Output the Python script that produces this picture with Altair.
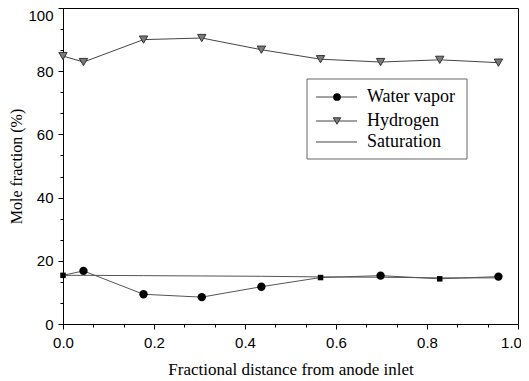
import altair as alt
import pandas as pd

# ---- data ----
x_pos = [0.0, 0.045, 0.177, 0.305, 0.436, 0.566, 0.698, 0.828, 0.957]
hydrogen = [84.8, 82.9, 90.0, 90.5, 86.8, 83.8, 82.9, 83.6, 82.7]
water_vapor = [15.4, 16.8, 9.4, 8.5, 11.8, 14.7, 15.3, 14.3, 15.0]
saturation = [15.4, 15.4, 15.3, 15.2, 15.1, 14.9, 14.8, 14.6, 14.6]
water_marker = ["square", "circle", "circle", "circle", "circle", "square", "circle", "square", "circle"]

series_names = ["Water vapor", "Hydrogen", "Saturation"]
x_major_labels = [0.0, 0.2, 0.4, 0.6, 0.8, 1.0]
y_major_labels = [0, 20, 40, 60, 80, 100]

x_ticks = [round(i * 0.2 / 3, 6) for i in range(16)]
y_ticks = [round(i * 20 / 3, 6) for i in range(16)]

df = pd.DataFrame({
    "x": x_pos,
    "hydrogen": hydrogen,
    "water": water_vapor,
    "sat": saturation,
    "marker": water_marker,
})

W, H = 455, 316

x_enc = alt.X("x:Q", scale=alt.Scale(domain=[0, 1], nice=False, zero=False),
              axis=alt.Axis(values=x_ticks, labelFlush=False,
                            labelExpr="abs(datum.value*5 - round(datum.value*5)) < 0.001 ? format(datum.value, '.1f') : ''",
                            tickSize={"condition": {"test": "abs(datum.value*5 - round(datum.value*5)) < 0.001", "value": 5}, "value": 3},
                            labelOffset={"condition": {"test": "datum.value > 0.99", "value": -7}, "value": 0},
                            title="Fractional distance from anode inlet",
                            labelPadding=6, titlePadding=11, grid=False))

def y_enc(field):
    return alt.Y(f"{field}:Q", scale=alt.Scale(domain=[0, 100], nice=False),
                 axis=alt.Axis(values=y_ticks, labelFlush=False,
                               labelExpr="abs(datum.value/20 - round(datum.value/20)) < 0.001 ? format(datum.value, 'd') : ''",
                               tickSize={"condition": {"test": "abs(datum.value/20 - round(datum.value/20)) < 0.001", "value": 5}, "value": 3},
                               labelOffset={"condition": {"test": "datum.value > 99", "value": 7}, "value": 0},
                               title="Mole fraction (%)", titleFontSize=16,
                               labelPadding=5, titlePadding=3, grid=False))

base = alt.Chart(df)

sat_line = base.mark_line(color="#555555", strokeWidth=1).encode(x=x_enc, y=y_enc("sat"))
water_line = base.mark_line(color="#555555", strokeWidth=1).encode(x=x_enc, y=y_enc("water"))
h_line = base.mark_line(color="#444444", strokeWidth=1).encode(x=x_enc, y=y_enc("hydrogen"))

circles = base.transform_filter("datum.marker == 'circle'").mark_point(
    shape="circle", filled=True, color="black", size=70, opacity=1
).encode(x=x_enc, y=y_enc("water"))
squares = base.transform_filter("datum.marker == 'square'").mark_point(
    shape="square", filled=True, color="black", size=30, opacity=1
).encode(x=x_enc, y=y_enc("water"))
triangles = base.mark_point(
    shape="triangle-down", filled=True, fill="#7a7a7a", stroke="#333333", strokeWidth=1,
    size=70, opacity=1
).encode(x=x_enc, y=y_enc("hydrogen"))

# ---- legend (drawn in pixel space) ----
one = pd.DataFrame({"a": [0]})
lx0, lx1, lmx, ltx = 253, 294, 274, 304
rows_y = [89, 113, 134]

legend_box = alt.Chart(one).mark_rect(fill="white", stroke="#666666", strokeWidth=1).encode(
    x=alt.value(244), x2=alt.value(404), y=alt.value(71), y2=alt.value(151))

legend_layers = [legend_box]
for i, name in enumerate(series_names):
    yy = rows_y[i]
    legend_layers.append(alt.Chart(one).mark_rule(color="#444444", strokeWidth=1).encode(
        x=alt.value(lx0), x2=alt.value(lx1), y=alt.value(yy)))
    legend_layers.append(alt.Chart(one).mark_text(
        text=name, align="left", baseline="middle", font="Liberation Serif", fontSize=18, color="black"
    ).encode(x=alt.value(ltx), y=alt.value(yy)))

legend_layers.append(alt.Chart(one).mark_point(shape="circle", filled=True, color="black", size=60, opacity=1).encode(
    x=alt.value(lmx), y=alt.value(rows_y[0])))
legend_layers.append(alt.Chart(one).mark_point(shape="triangle-down", filled=True, fill="#7a7a7a", stroke="#333333",
                                               strokeWidth=1, size=55, opacity=1).encode(
    x=alt.value(lmx), y=alt.value(rows_y[1])))

chart = alt.layer(sat_line, water_line, h_line, squares, circles, triangles, *legend_layers).properties(
    width=W, height=H,
    autosize=alt.AutoSizeParams(type="none"),
    padding={"left": 55, "top": 0, "right": 3, "bottom": 57},
    background="white",
).configure_view(stroke="black", strokeWidth=1).configure_axis(
    labelFont="Liberation Sans", labelFontSize=15, labelColor="black",
    titleFont="Liberation Serif", titleFontSize=17, titleFontWeight="normal", titleColor="black",
    domainColor="black", tickColor="black", domainWidth=1, tickWidth=1,
)

chart.save("out.html", embed_options={"renderer": "svg", "actions": False})
